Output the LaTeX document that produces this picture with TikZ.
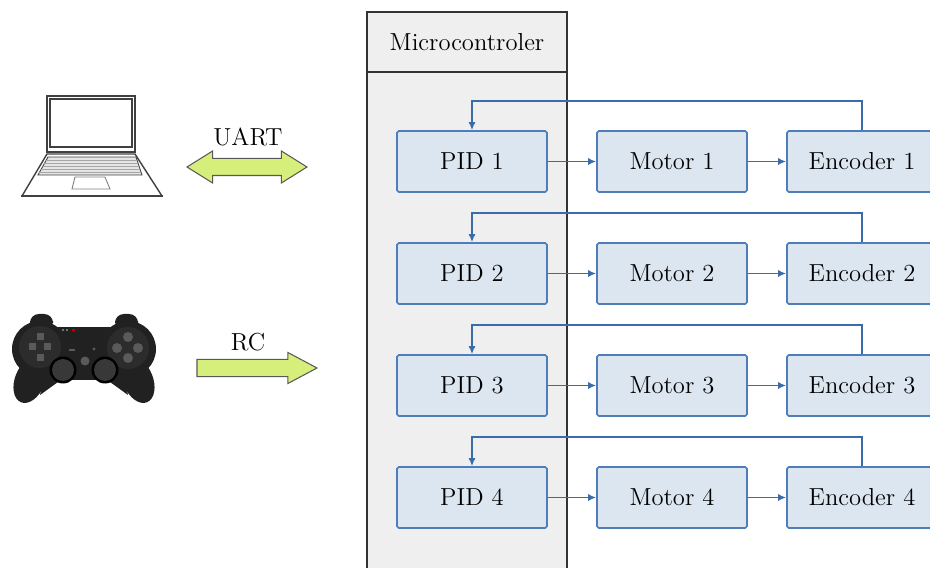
\documentclass[tikz,border=0pt]{standalone}
\usetikzlibrary{positioning,arrows.meta,shapes.arrows}
\definecolor{boxfill}{HTML}{DCE6F1}
\definecolor{boxline}{HTML}{4F7DB8}
\definecolor{wire}{HTML}{3A6BAA}
\definecolor{mcufill}{HTML}{EFEFEF}
\definecolor{link}{HTML}{D5EF7A}
\definecolor{padblack}{HTML}{212121}
\definecolor{padlobe}{HTML}{2C2C2C}
\definecolor{padgrey}{HTML}{5A5A5A}

\begin{document}
\begin{tikzpicture}[x=0.2mm, y=-0.2mm,
  every node/.append style={font=\fontsize{14}{16}\selectfont},
  block/.style={draw=boxline, line width=0.9pt, fill=boxfill, rounded corners=1pt,
                minimum width=30mm, minimum height=12.2mm, inner sep=0pt},
  mcu/.style={draw=black!80, line width=0.8pt, fill=mcufill},
  sig/.style={wire, line width=0.9pt, -{Latex[length=1.6mm,width=1.4mm]}},
  fb/.style={wire, line width=0.9pt, -{Latex[length=1.6mm,width=1.4mm]}},
  fat/.style={draw=black!65, line width=0.6pt, fill=link, inner xsep=0pt,
              inner ysep=1.6mm, minimum height=24mm},
]
\clip (0,0) rectangle (930,568);

% microcontroller frame
\draw[mcu] (367,72) rectangle (567,600);
\draw[mcu] (367,12) rectangle (567,72);
\node (mcu) at (467,42) {Microcontroler};

% four control loops
\foreach \i in {1,...,4}{
  \pgfmathsetmacro{\y}{161.5+112*(\i-1)}
  \node[block] (pid\i) at (472,\y) {PID \i};
  \node[block] (mot\i) at (672,\y) {Motor \i};
  \node[block] (enc\i) at (862,\y) {Encoder \i};
  \draw[sig] (pid\i) -- (mot\i);
  \draw[sig] (mot\i) -- (enc\i);
  \draw[fb] (enc\i.north) -- ++(0,-29) -| (pid\i.north);
}

% links into the microcontroler
\node[fat, double arrow, double arrow head extend=1.5mm, double arrow tip angle=64]
  (uart) at (247,167) {};
\node (uartlbl) at (248,137) {UART};
\node[fat, single arrow, single arrow head extend=1.4mm, single arrow tip angle=56]
  (rc) at (249,368) {};
\node (rclbl) at (248,342) {RC};

% laptop
\begin{scope}[draw=black!75, line width=0.8pt]
  \draw[fill=white, line width=1.1pt] (47,96) rectangle (135,152);
  \draw (50,99) rectangle (132,147);
  \draw[fill=white] (47,154) -- (135,154) -- (162,196) -- (22,196) -- cycle;
  \draw[line width=1.6pt] (21,196) -- (163,196);
  \draw[fill=black!10, line width=0.5pt] (48,157) -- (136,157) -- (142,175) -- (38,175) -- cycle;
  \begin{scope}
    \clip (48,157) -- (136,157) -- (142,175) -- (38,175) -- cycle;
    \foreach \k in {160,163,...,172}
      \draw[black!35, line width=0.3pt] (38,\k) -- (142,\k);
  \end{scope}
  \draw[line width=0.5pt, black!50] (75,177) -- (105,177) -- (110,189) -- (72,189) -- cycle;
\end{scope}

% gamepad
\begin{scope}
  \fill[padblack, rounded corners=5pt] (30,314) rectangle (53,330);
  \fill[padblack, rounded corners=5pt] (115,314) rectangle (138,330);
  \fill[padblack] (40,327) rectangle (128,380);
  \fill[padblack] (40,349) circle (28);
  \fill[padblack] (128,349) circle (28);
  \fill[padblack, rotate around={-22:(30,380)}] (30,380) ellipse (15 and 24);
  \fill[padblack, rotate around={22:(138,380)}] (138,380) ellipse (15 and 24);
  \fill[padblack] (46,365) -- (58,382) -- (40,395) -- cycle;
  \fill[padblack] (122,365) -- (110,382) -- (128,395) -- cycle;
  \fill[red!75!black] (72,329) rectangle (75,331);
  \foreach \k in {62,66} \fill[black!55] (\k,329) rectangle (\k+2,331);
  % d-pad
  \fill[padlobe] (40,347) circle (21);
  \fill[padgrey] (36.5,333) rectangle (43.5,340);
  \fill[padgrey] (36.5,354) rectangle (43.5,361);
  \fill[padgrey] (29,343.5) rectangle (36,350.5);
  \fill[padgrey] (44,343.5) rectangle (51,350.5);
  % buttons
  \fill[padlobe] (128,348) circle (21);
  \foreach \dx/\dy in {0/-11,0/10,-11/0,10/0}
    \fill[padgrey] (128+\dx,348+\dy) circle (5);
  % sticks
  \foreach \sx in {63,105}{
    \fill[black] (\sx,370) circle (13.5);
    \fill[black!78] (\sx,370) circle (11);
  }
  \fill[padgrey] (85,361) circle (4.5);
  \fill[padgrey] (69,349) rectangle (75,351.5);
  \fill[padgrey] (94,349) circle (1.6);
\end{scope}
\end{tikzpicture}
\end{document}
